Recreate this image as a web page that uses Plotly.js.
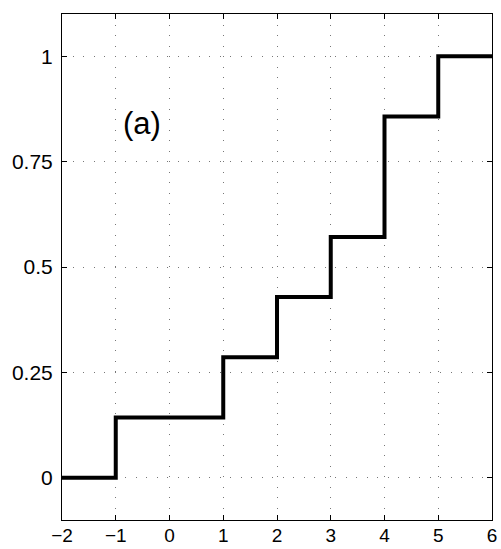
<!DOCTYPE html>
<html>
<head>
<meta charset="utf-8">
<script src="https://cdn.plot.ly/plotly-3.0.1.min.js"></script>
<style>html,body{margin:0;padding:0;background:#fff;}#chart{width:501px;height:549px;}</style>
</head>
<body>
<div id="chart"></div>
<script>
const stepX = [-2, -1, 1, 2, 3, 4, 5, 6];
const stepY = [0, 0.1429, 0.2857, 0.4286, 0.5714, 0.8571, 1, 1];
const xTicks = [-2, -1, 0, 1, 2, 3, 4, 5, 6];
const yTicks = [0, 0.25, 0.5, 0.75, 1];
const yTickText = ['0', '0.25', '0.5', '0.75', '1'];
const panelLabel = '(a)';

const axisCommon = {
  showline: true, linecolor: '#000', linewidth: 1, mirror: 'ticks',
  ticks: 'inside', ticklen: 5, tickcolor: '#000', tickwidth: 1,
  showgrid: true, gridcolor: '#777', griddash: '1px,9.5px', gridwidth: 1,
  zeroline: false,
  tickfont: {family: 'Liberation Sans, Arial, sans-serif', size: 21, color: '#000'}
};

Plotly.newPlot('chart', [{
  x: stepX, y: stepY, type: 'scatter', mode: 'lines',
  line: {shape: 'hv', color: '#000', width: 4}
}], {
  width: 501, height: 549,
  margin: {l: 62, r: 9, t: 14, b: 29},
  paper_bgcolor: '#fff', plot_bgcolor: '#fff',
  showlegend: false,
  xaxis: Object.assign({}, axisCommon, {range: [-2, 6], tickvals: xTicks, ticklabelstandoff: -2,
    tickfont: {family: 'Liberation Sans, Arial, sans-serif', size: 19, color: '#000'}}),
  yaxis: Object.assign({}, axisCommon, {range: [-0.1, 1.1], tickvals: yTicks, ticktext: yTickText, ticklabelstandoff: 4}),
  annotations: [{
    x: -0.51, y: 0.84, xref: 'x', yref: 'y', text: panelLabel, showarrow: false,
    font: {family: 'Liberation Sans, Arial, sans-serif', size: 31, color: '#000'}
  }]
}, {displayModeBar: false, staticPlot: true});
</script>
</body>
</html>
